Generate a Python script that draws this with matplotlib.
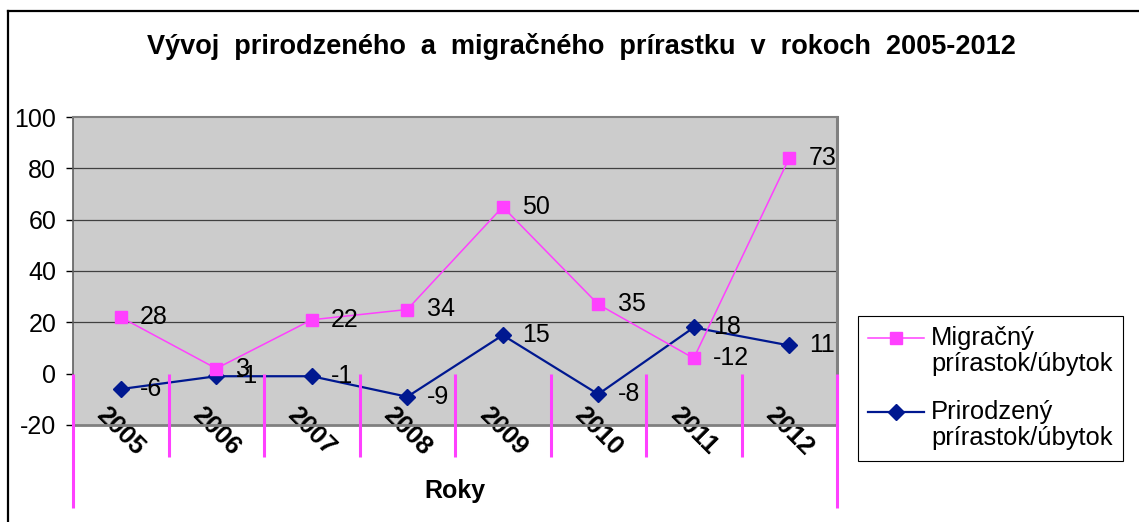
import numpy as np
import matplotlib
matplotlib.use("Agg")
import matplotlib.pyplot as plt
from matplotlib.legend_handler import HandlerLine2D
from matplotlib.lines import Line2D

plt.rcParams['font.family'] = ['Liberation Sans', 'DejaVu Sans']
plt.rcParams['axes.unicode_minus'] = False

years = ['2005', '2006', '2007', '2008', '2009', '2010', '2011', '2012']
migracny = [28, 3, 22, 34, 50, 35, -12, 73]
prirodzeny = [-6, -1, -1, -9, 15, -8, 18, 11]
y_ticks = [-20, 0, 20, 40, 60, 80, 100]

PINK = '#FF40FF'
NAVY = '#001890'
FS = 18


class FirstLineHandler(HandlerLine2D):
    # keep the legend marker level with the first line of a two-line label
    def __init__(self, shift, **kw):
        super().__init__(**kw)
        self.shift = shift

    def create_artists(self, legend, orig_handle, xdescent, ydescent,
                       width, height, fontsize, trans):
        artists = super().create_artists(legend, orig_handle, xdescent, ydescent,
                                         width, height, fontsize, trans)
        for a in artists:
            a.set_ydata(np.asarray(a.get_ydata(), dtype=float) + self.shift * fontsize)
        return artists


W, H = 1139, 522
fig = plt.figure(figsize=(W / 100, H / 100), dpi=100)
ax = fig.add_axes([73 / W, 97 / H, 764 / W, 308 / H])
ax.set_facecolor('#CCCCCC')

x = np.arange(len(years))
# Excel "stacked line": the pink series sits on top of the navy one
stacked = np.add(prirodzeny, migracny)

for v in y_ticks:
    if v not in (y_ticks[0], 0, y_ticks[-1]):
        ax.axhline(v, color='#404040', lw=0.9, zorder=1)

navy_line, = ax.plot(x, prirodzeny, color=NAVY, lw=1.6, marker='D', ms=8, zorder=3)
pink_line, = ax.plot(x, stacked, color=PINK, lw=1.1, marker='s', ms=9, zorder=4)

for xi, yi, v in zip(x, prirodzeny, prirodzeny):
    ax.annotate(str(v), (xi, yi), xytext=(14, 0), textcoords='offset points',
                ha='left', va='center', fontsize=FS, zorder=6)
for xi, yi, v in zip(x, stacked, migracny):
    ax.annotate(str(v), (xi, yi), xytext=(14, 0), textcoords='offset points',
                ha='left', va='center', fontsize=FS, zorder=6)

# pink category separators hanging from the zero line
bounds = np.arange(len(years) + 1) - 0.5
ax.vlines(bounds[1:-1], -32.5, 0, color=PINK, lw=2.2, clip_on=False, zorder=5)
ax.vlines(bounds[[0, -1]], -52.5, 0, color=PINK, lw=2.2, clip_on=False, zorder=5)

ax.set_xlim(-0.5, len(years) - 0.5)
ax.set_ylim(y_ticks[0], y_ticks[-1])
ax.set_yticks(y_ticks)
ax.set_xticks(x, years, rotation=-45, ha='center', va='top', fontweight='bold')
ax.tick_params(axis='x', length=0, pad=-16, labelsize=18.5)
ax.tick_params(axis='y', length=5, width=1, color='black', pad=7, labelsize=FS)

for side, lw in (('top', 1.5), ('right', 2.2), ('bottom', 2.0)):
    ax.spines[side].set_color('#808080')
    ax.spines[side].set_linewidth(lw)
ax.spines['left'].set_color('#606060')
ax.spines['left'].set_linewidth(1.2)

ax.set_xlabel('Roky', fontsize=FS, fontweight='bold', va='center')
ax.xaxis.set_label_coords(0.5, -0.214)

fig.text(581 / W, 1 - 47 / H,
         'Vývoj  prirodzeného  a  migračného  prírastku  v  rokoch  2005-2012',
         ha='center', va='center', fontsize=19.5, fontweight='bold')

leg = ax.legend([pink_line, navy_line],
                ['Migračný\nprírastok/úbytok', 'Prirodzený\nprírastok/úbytok'],
                loc='upper left', bbox_to_anchor=(858 / W, 1 - 316 / H),
                bbox_transform=fig.transFigure, borderaxespad=0,
                fancybox=False, edgecolor='black', framealpha=1, fontsize=18.4,
                handlelength=2.2, handletextpad=0.25, borderpad=0.4,
                labelspacing=0.95, numpoints=1,
                handler_map={pink_line: FirstLineHandler(0.55),
                             navy_line: FirstLineHandler(0.55)})
for t in leg.get_texts():
    t.set_linespacing(1.1)
leg.get_frame().set_linewidth(0.8)

# outer chart frame (right and bottom edges fall outside the image)
fig.add_artist(Line2D([8 / W, 8 / W], [0, 1 - 11 / H], transform=fig.transFigure,
                      color='black', lw=1.6))
fig.add_artist(Line2D([8 / W, 1], [1 - 11 / H, 1 - 11 / H], transform=fig.transFigure,
                      color='black', lw=1.6))

fig.savefig('out.png', dpi=100)
